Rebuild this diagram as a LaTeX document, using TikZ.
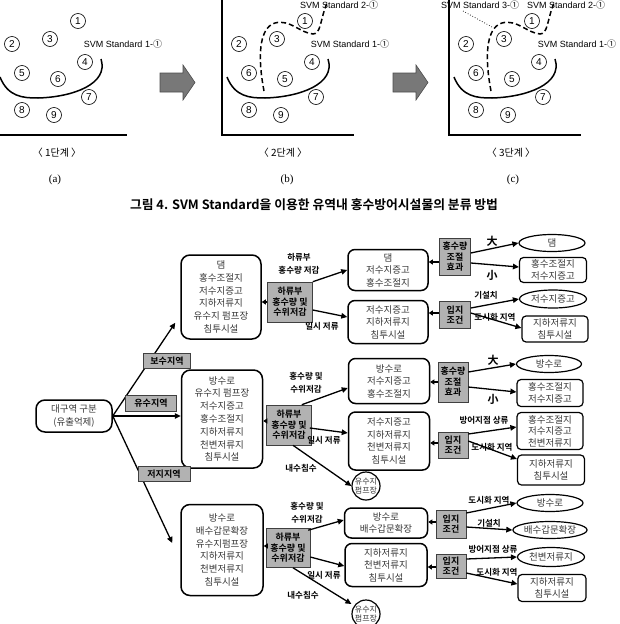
\documentclass[tikz,border=0pt]{standalone}
\usepackage{fontspec}
\setmainfont{Liberation Sans}
\newfontfamily\kr{Noto Sans CJK KR}[BoldFont={Noto Sans CJK KR Bold}]
\newfontfamily\serifa{Liberation Serif}
\usetikzlibrary{arrows.meta,shapes.geometric,calc}
\definecolor{gfill}{RGB}{178,178,178}
\definecolor{txtg}{RGB}{55,55,55}
\definecolor{arrfill}{RGB}{120,120,120}
\tikzset{
 bigbox/.style={draw, line width=1.5pt, rounded corners=9pt, align=center, text=txtg, font=\kr\fontsize{9.5}{12.8}\selectfont, inner sep=0pt},
 midbox/.style={draw, line width=1.5pt, rounded corners=7pt, align=center, text=txtg, font=\kr\fontsize{9.5}{12.5}\selectfont, inner sep=0pt},
 smbox/.style={draw, line width=1.2pt, rounded corners=4pt, align=center, text=txtg, font=\kr\fontsize{9.5}{11.5}\selectfont, inner sep=0pt},
 oval/.style={draw, ellipse, line width=1.2pt, align=center, text=txtg, font=\kr\fontsize{9.5}{11.5}\selectfont, inner sep=0pt},
 pump/.style={draw, circle, line width=1.2pt, align=center, text=txtg, font=\kr\fontsize{8}{9}\selectfont, inner sep=0pt, minimum size=28pt},
 gbox/.style={draw=black!75, line width=0.6pt, fill=gfill, align=center, font=\kr\bfseries\fontsize{9}{10.5}\selectfont, inner sep=0pt},
 lbl/.style={font=\kr\bfseries\fontsize{8.5}{12.5}\selectfont, align=center, inner sep=0pt},
 biglbl/.style={font=\kr\bfseries\fontsize{11}{12}\selectfont, inner sep=0pt},
 arr/.style={line width=1.3pt, -{Triangle[length=6pt,width=5.5pt]}},
 sarr/.style={line width=1.3pt, -{Triangle[length=4pt,width=5pt]}},
 num/.style={draw, circle, line width=0.6pt, minimum size=15pt, inner sep=0pt, font=\fontsize{10}{10}\selectfont},
 svm/.style={font=\fontsize{9}{10}\selectfont, inner sep=0pt},
 axisln/.style={line width=2.6pt},
 solidc/.style={line width=1.5pt},
 dashc/.style={line width=1.5pt, dash pattern=on 5pt off 3pt},
 bigarr/.style={fill=arrfill, draw=black!70, line width=0.6pt},
}
\begin{document}
\begin{tikzpicture}[x=1pt,y=-1pt]
\useasboundingbox (0,0) rectangle (619,624);

% ---------- top panels ----------
\foreach \dx/\p in {-227/a,0/b,227/c}{
 \begin{scope}[xshift=\dx pt]
  \draw[axisln] (222,-3) -- (222,135) -- (354,135);
  \node[num] (n1\p) at (305,21) {1};
  \node[num] (n2\p) at (239,44) {2};
  \node[num] (n3\p) at (277,39) {3};
  \node[num] (n4\p) at (312,62) {4};
  \node[num] (n7\p) at (316,97) {7};
  \node[num] (n8\p) at (249,110) {8};
  \node[num] (n9\p) at (281,115) {9};
  \draw[solidc] (227,77) .. controls (235,97) and (250,98) .. (265,98) .. controls (300,97) and (336,84) .. (328,59);
  \node[svm] (s1\p) at (350,44) {SVM Standard 1-{\kr ①}};
 \end{scope}
}
% panel a numbers 5,6
\node[num] (n5a) at (22,73) {5};
\node[num] (n6a) at (58,79) {6};
% panels b,c
\foreach \dx/\p in {0/b,227/c}{
 \begin{scope}[xshift=\dx pt]
  \node[num] (n6\p) at (249,73) {6};
  \node[num] (n5\p) at (285,79) {5};
  \draw[dashc] (264,91) .. controls (258,60) and (258,28) .. (275,23) .. controls (290,19) and (300,33) .. (313,34) .. controls (321,34) and (320,20) .. (327,3);
  \node[svm, anchor=west] (s2\p) at (300,5) {SVM Standard 2-{\kr ①}};
 \end{scope}
}
\node[svm, anchor=west] (s3c) at (441,5.5) {SVM Standard 3-{\kr ①}};
\coordinate (d3) at (492,27);
\draw[line width=0.7pt, dotted] (463,11) -- (d3);

% big arrows
\draw[bigarr] (160,73) -- (183,73) -- (183,65) -- (195,82.5) -- (183,100) -- (183,92) -- (160,92) -- cycle;
\draw[bigarr] (393,73) -- (416,73) -- (416,65) -- (428,82.5) -- (416,100) -- (416,92) -- (393,92) -- cycle;

% stage labels
\node[font=\kr\fontsize{10}{12}\selectfont] (st1) at (57,153) {〈 1단계 〉};
\node[font=\kr\fontsize{10}{12}\selectfont] (st2) at (283,153) {〈 2단계 〉};
\node[font=\kr\fontsize{10}{12}\selectfont] (st3) at (511,153) {〈 3단계 〉};
\node[font=\serifa\fontsize{11}{12}\selectfont] (pa) at (55,180) {(a)};
\node[font=\serifa\fontsize{11}{12}\selectfont] (pb) at (287,180) {(b)};
\node[font=\serifa\fontsize{11}{12}\selectfont] (pc) at (513,180) {(c)};

% caption
\node[font=\kr\bfseries\fontsize{12.8}{14}\selectfont] (cap) at (314,205) {그림 4. SVM Standard을 이용한 유역내 홍수방어시설물의 분류 방법};

% ---------- flow chart ----------
\node[bigbox, minimum width=76pt, minimum height=32pt] (L) at (74,416) {대구역 구분\\(유출억제)};
\node[bigbox, minimum width=80pt, minimum height=84pt] (A) at (221,297) {댐\\홍수조절지\\저수지증고\\지하저류지\\유수지 펌프장\\침투시설};
\node[bigbox, minimum width=81pt, minimum height=98pt] (B) at (222,419) {방수로\\유수지 펌프장\\저수지증고\\홍수조절지\\지하저류지\\천변저류지\\침투시설};
\node[bigbox, minimum width=82pt, minimum height=91pt] (C) at (222,550) {방수로\\배수갑문확장\\유수지펌프장\\지하저류지\\천변저류지\\침투시설};

\draw[arr] (L.east) -- ($(A.south west)+(-5,-17)$);
\draw[arr] (L.east) -- (B.west |- L.east);
\draw[arr] (L.east) -- ($(C.west)+(-8,-7)$);

\node[gbox, minimum width=47pt, minimum height=15pt] (R1) at (167,361) {보수지역};
\node[gbox, minimum width=51pt, minimum height=16pt] (R2) at (151,403) {유수지역};
\node[gbox, minimum width=52pt, minimum height=15pt] (R3) at (164,474) {저지지역};

\node[gbox, minimum width=45pt, minimum height=40pt] (G1) at (290,302) {하류부\\홍수량 및\\수위저감};
\node[gbox, minimum width=45pt, minimum height=40pt] (G2) at (289,425) {하류부\\홍수량 및\\수위저감};
\node[gbox, minimum width=44pt, minimum height=39pt] (G3) at (288,548) {하류부\\홍수량 및\\수위저감};
\draw[sarr] (G1.west) -- (G1.west -| A.east);
\draw[sarr] ($(G2.west)+(0,-4)$) -- ($(G2.west -| B.east)+(0,-4)$);
\draw[sarr] ($(G3.west)+(0,-2)$) -- ($(G3.west -| C.east)+(0,-2)$);

% section 1
\node[midbox, minimum width=80pt, minimum height=41pt] (D1) at (388,270) {댐\\저수지증고\\홍수조절지};
\node[midbox, minimum width=80pt, minimum height=43pt] (D2) at (388,322) {저수지증고\\지하저류지\\침투시설};
\draw[arr] (G1.north east) -- (D1.west);
\draw[arr] ($(G1.east)+(0,8)$) -- ($(D2.west)+(0,-5)$);
\node[lbl] (l11) at (299,264) {하류부\\홍수량 저감};
\node[lbl] (l12) at (322,326) {일시 저류};

\node[gbox, minimum width=31pt, minimum height=37pt] (H1) at (455,257) {홍수량\\조절\\효과};
\node[gbox, minimum width=31pt, minimum height=27pt] (I1) at (455,315) {입지\\조건};
\draw[sarr] ($(H1.west)+(0,5)$) -- ($(H1.west -| D1.east)+(0,5)$);
\draw[sarr] ($(I1.west)+(0,-2)$) -- ($(I1.west -| D2.east)+(0,-2)$);

\node[oval, minimum width=66pt, minimum height=17pt] (T1) at (552,243) {댐};
\node[smbox, minimum width=67pt, minimum height=25pt] (T2) at (553,270) {홍수조절지\\저수지증고};
\node[oval, minimum width=67pt, minimum height=18pt] (T3) at (553,299) {저수지증고};
\node[smbox, minimum width=66pt, minimum height=26pt] (T4) at (555,329) {지하저류지\\침투시설};
\draw[arr] ($(H1.east)+(0,-4)$) -- (T1.west);
\draw[arr] ($(H1.east)+(0,6)$) -- ($(T2.west)+(0,-3)$);
\draw[arr] ($(I1.east)+(0,-7)$) -- (T3.west);
\draw[arr] ($(I1.east)+(0,-2)$) -- ($(T4.west)+(0,-1)$);
\node[biglbl] (l13) at (492,241) {大};
\node[biglbl] (l14) at (492,275) {小};
\node[lbl] (l15) at (486,295) {기설치};
\node[lbl] (l16) at (495,317) {도시화 지역};

% section 2
\node[midbox, minimum width=81pt, minimum height=45pt] (E1) at (389,381) {방수로\\저수지증고\\홍수조절지};
\node[midbox, minimum width=81pt, minimum height=58pt] (E2) at (389,441) {저수지증고\\지하저류지\\천변저류지\\침투시설};
\node[pump] (P1) at (366,486) {유수지\\펌프장};
\draw[arr] ($(G2.north east)+(-10,0)$) -- ($(E1.west)+(0,7)$);
\draw[arr] ($(G2.east)+(-2,3)$) -- ($(E2.west)+(0,-8)$);
\draw[arr] ($(G2.south)+(4,0)$) -- (P1.west);
\node[lbl] (l21) at (306,383) {홍수량 및\\수위저감};
\node[lbl] (l22) at (324,440) {일시 저류};
\node[lbl] (l23) at (301,468) {내수침수};

\node[gbox, minimum width=30pt, minimum height=40pt] (H2) at (453,382) {홍수량\\조절\\효과};
\node[gbox, minimum width=30pt, minimum height=26pt] (I2) at (453,445) {입지\\조건};
\draw[sarr] (H2.west) -- (H2.west -| E1.east);
\draw[sarr] ($(I2.west)+(0,-2)$) -- ($(I2.west -| E2.east)+(0,-2)$);

\node[oval, minimum width=65pt, minimum height=17pt] (U1) at (549,364) {방수로};
\node[smbox, minimum width=66pt, minimum height=27pt] (U2) at (550,393) {홍수조절지\\저수지증고};
\node[smbox, minimum width=66pt, minimum height=37pt] (U3) at (550,431) {홍수조절지\\저수지증고\\천변저류지};
\node[smbox, minimum width=67pt, minimum height=30pt] (U4) at (551,470) {지하저류지\\침투시설};
\draw[arr] ($(H2.east)+(0,-10)$) -- (U1.west);
\draw[arr] ($(H2.east)+(0,5)$) -- ($(U2.west)+(0,-1)$);
\draw[arr] ($(I2.east)+(0,-11)$) -- ($(U3.west)+(0,-4)$);
\draw[arr] ($(I2.east)+(0,-4)$) -- ($(U4.west)+(0,-11)$);
\node[biglbl] (l24) at (493,360) {大};
\node[biglbl] (l25) at (493,399) {小};
\node[lbl] (l26) at (484,420) {방어지점 상류};
\node[lbl] (l27) at (492,447) {도시화 지역};

% section 3
\node[midbox, minimum width=83pt, minimum height=30pt] (F1) at (386,523) {방수로\\배수갑문확장};
\node[midbox, minimum width=82pt, minimum height=43pt] (F2) at (386,565) {지하저류지\\천변저류지\\침투시설};
\node[pump] (P2) at (366,614) {유수지\\펌프장};
\draw[arr] ($(G3.north east)+(-2,2)$) -- ($(F1.west)+(0,-3)$);
\draw[arr] ($(G3.east)+(0,9)$) -- ($(F2.west)+(0,1)$);
\draw[arr] ($(G3.south)+(5,0)$) -- ($(P2.west)+(0,-10)$);
\node[lbl] (l31) at (307,513) {홍수량 및\\수위저감};
\node[lbl] (l32) at (324,575) {일시 저류};
\node[lbl] (l33) at (303,595) {내수침수};

\node[gbox, minimum width=30pt, minimum height=28pt] (I3) at (451,524) {입지\\조건};
\node[gbox, minimum width=30pt, minimum height=24pt] (I4) at (451,566) {입지\\조건};
\draw[sarr] ($(I3.west)+(0,-2)$) -- ($(I3.west -| F1.east)+(0,-2)$);
\draw[sarr] ($(I4.west)+(0,1)$) -- ($(I4.west -| F2.east)+(0,1)$);

\node[oval, minimum width=66pt, minimum height=17pt] (V1) at (550,503) {방수로};
\node[oval, minimum width=66pt, minimum height=17pt] (V2) at (550,530) {배수갑문확장};
\node[oval, minimum width=67pt, minimum height=19pt] (V3) at (551,557) {천변저류지};
\node[smbox, minimum width=68pt, minimum height=27pt] (V4) at (552,588) {지하저류지\\침투시설};
\draw[arr] ($(I3.east)+(0,-11)$) -- (V1.west);
\draw[arr] ($(I3.east)+(0,3)$) -- (V2.west);
\draw[arr] ($(I4.east)+(0,-7)$) -- (V3.west);
\draw[arr] ($(I4.east)+(0,7)$) -- ($(V4.west)+(0,-4)$);
\node[lbl] (l34) at (489,500) {도시화 지역};
\node[lbl] (l35) at (489,523) {기설치};
\node[lbl] (l36) at (493,549) {방어지점 상류};
\node[lbl] (l37) at (497,572) {도시화 지역};
\end{tikzpicture}
\end{document}
